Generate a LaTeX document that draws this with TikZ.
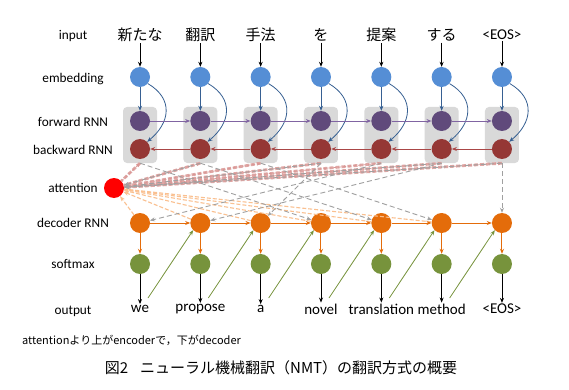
\documentclass[tikz,border=0pt]{standalone}
\usepackage{fontspec}
\setmainfont{Carlito}
\newfontfamily\jp{Noto Sans CJK JP}
\usetikzlibrary{arrows.meta,calc}
\definecolor{embblue}{RGB}{85,142,213}
\definecolor{fwpurple}{RGB}{96,74,123}
\definecolor{bwred}{RGB}{149,55,53}
\definecolor{boxgray}{RGB}{217,217,217}
\definecolor{attred}{RGB}{255,0,0}
\definecolor{decorange}{RGB}{228,108,10}
\definecolor{smgreen}{RGB}{119,147,60}
\definecolor{bluearrow}{RGB}{55,96,146}
\definecolor{purpleline}{RGB}{128,100,162}
\definecolor{redline}{RGB}{170,70,70}
\definecolor{pinkdash}{RGB}{217,150,148}
\definecolor{orangedash}{RGB}{250,192,144}
\definecolor{graydash}{RGB}{160,160,160}
\tikzset{
  unit/.style={circle,minimum size=20pt,inner sep=0pt},
  encbox/.style={rounded corners=4pt,fill=boxgray,minimum width=34pt,minimum height=56pt,inner sep=0pt},
  rowlabel/.style={font=\fontsize{13.3}{15}\selectfont,anchor=center},
  inword/.style={font=\jp\fontsize{15}{17}\selectfont,inner sep=1pt},
  outword/.style={font=\fontsize{15}{17}\selectfont,inner sep=1pt},
  tip/.style={-{Stealth[length=5pt,width=4pt]}},
  blackarr/.style={tip,black,line width=0.8pt},
  bluearr/.style={tip,bluearrow,line width=0.8pt},
  fwarr/.style={tip,purpleline,line width=0.9pt},
  bwarr/.style={tip,redline,line width=0.9pt},
  decarr/.style={tip,decorange,line width=1pt},
  greenarr/.style={tip,smgreen,line width=0.8pt},
  pinkthin/.style={-{Stealth[length=4pt,width=3.5pt]},pinkdash,line width=0.7pt,dash pattern=on 3pt off 2pt},
  pinkthick/.style={pinkdash!85,line width=2.8pt,dash pattern=on 4pt off 2pt},
  orangeline/.style={-{Stealth[length=5pt,width=4pt]},orangedash,line width=1.1pt,dash pattern=on 4pt off 2pt},
  grayline/.style={-{Stealth[length=5pt,width=4pt]},graydash,line width=0.9pt,dash pattern=on 5pt off 3pt},
}
\begin{document}
\begin{tikzpicture}[x=1pt,y=-1pt]
\useasboundingbox[fill=white] (0,0) rectangle (569,390);
% row labels
\node[rowlabel] (lin) at (73,36) {input};
\node[rowlabel] (lemb) at (73,79) {embedding};
\node[rowlabel] (lfw) at (73,122) {forward RNN};
\node[rowlabel] (lbw) at (73,150) {backward RNN};
\node[rowlabel] (latt) at (73,188) {attention};
\node[rowlabel] (ldec) at (73,223) {decoder RNN};
\node[rowlabel] (lsm) at (73,264) {softmax};
\node[rowlabel] (lout) at (73,311) {output};
% encoder boxes
\foreach \i in {1,...,7}{
  \pgfmathsetmacro\xx{140+60.33*(\i-1)}
  \node[encbox] (box\i) at (\xx,135) {};
}
% units
\foreach \i/\w/\o in {1/新たな/we,2/翻訳/propose,3/手法/a,4/を/novel,5/提案/translation,6/する/method,7/{\rmfamily <EOS>}/<EOS>}{
  \pgfmathsetmacro\xx{140+60.33*(\i-1)}
  \node[inword] (in\i) at (\xx,35) {\w};
  \node[unit,fill=embblue] (emb\i) at (\xx,77) {};
  \node[unit,fill=fwpurple] (fw\i) at (\xx,121) {};
  \node[unit,fill=bwred] (bw\i) at (\xx,149) {};
  \node[unit,fill=decorange] (dec\i) at (\xx,223) {};
  \node[unit,fill=smgreen] (sm\i) at (\xx,264) {};
  \node[outword] (out\i) at (\xx,309) {\o};
  \coordinate (g\i) at (\xx+8,298);
}
\node[unit,fill=attred] (att) at (114,188) {};
% dashed attention connections
\foreach \i in {1,...,7}{
  \draw[pinkthick] (box\i.south) -- (att);
}
\foreach \i in {1,...,7}{
  \draw[pinkthin] (att) -- (box\i.south);
}
\foreach \i in {1,...,6}{
  \draw[orangeline] (dec\i) -- (att);
}
\foreach \j in {2,4,6,7}{
  \draw[grayline] (box\j.south) -- (att);
}
\foreach \j/\d in {5/1,6/2,4/3,1/4,2/5,3/6,7/7}{
  \draw[grayline] (box\j.south) -- (dec\d);
}
% solid connectors
\foreach \i in {1,...,7}{
  \draw[blackarr] (in\i.south) -- (emb\i);
  \draw[bluearr] (emb\i) -- (fw\i);
  \draw[bluearr] (emb\i.-40) .. controls ($(emb\i)+(34,22)$) and ($(bw\i)+(30,-26)$) .. (bw\i.45);
  \draw[decarr] (dec\i) -- (sm\i);
  \draw[blackarr] (sm\i) -- (out\i.north);
}
\foreach \i/\n in {1/2,2/3,3/4,4/5,5/6,6/7}{
  \draw[fwarr] (fw\i) -- (fw\n);
  \draw[bwarr] (bw\n) -- (bw\i);
  \draw[decarr] (dec\i) -- (dec\n);
  \draw[greenarr] (g\i) -- (dec\n.-135);
}
% notes
\node[anchor=west,font=\jp\fontsize{11}{13}\selectfont,inner sep=0pt] (note) at (22,340) {attentionより上がencoderで，下がdecoder};
\node[font=\jp\fontsize{15}{17}\selectfont,inner sep=0pt] (cap) at (281,368) {図2\hspace{0.8em}ニューラル機械翻訳（NMT）の翻訳方式の概要};
\end{tikzpicture}
\end{document}
